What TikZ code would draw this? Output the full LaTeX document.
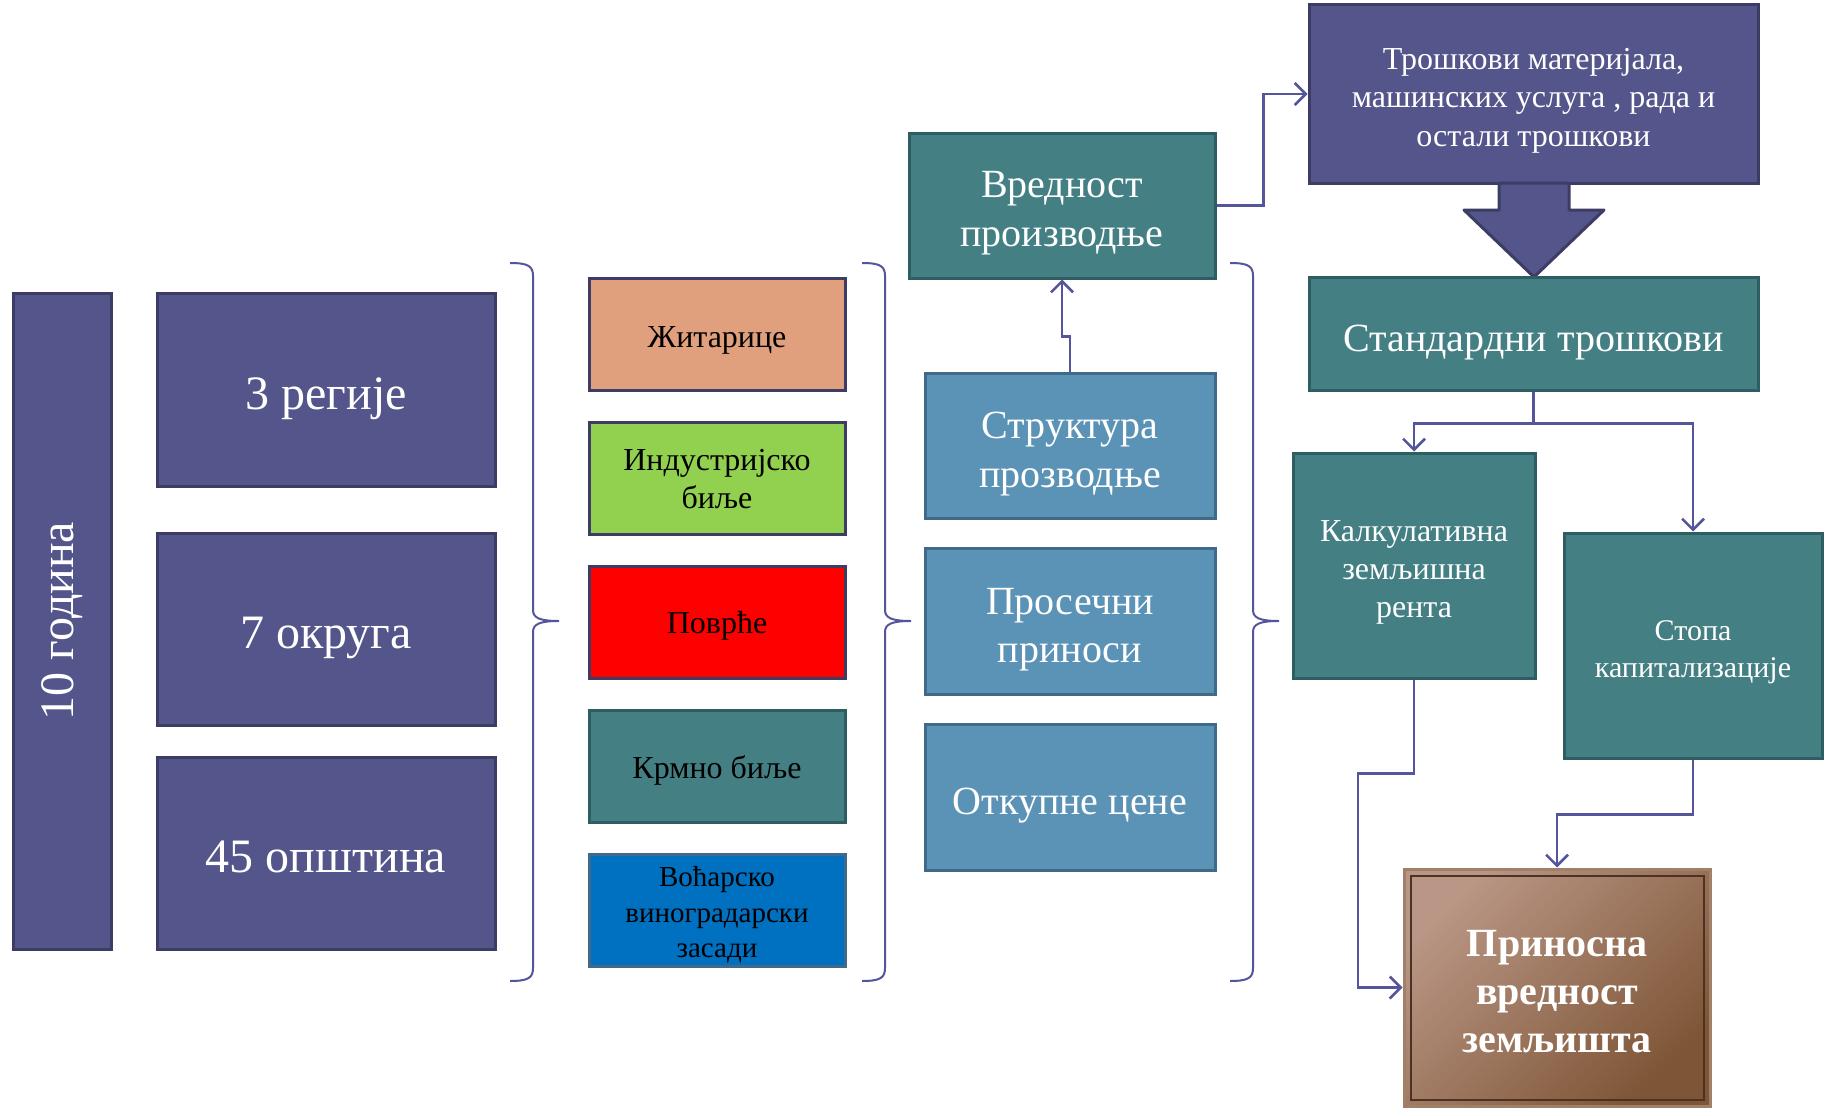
\documentclass[tikz,border=0pt]{standalone}
\usepackage{fontspec}
\setmainfont{Liberation Serif}
\usetikzlibrary{arrows.meta,shadings}
\definecolor{purpF}{HTML}{54558A}
\definecolor{purpD}{HTML}{3C3C64}
\definecolor{tealF}{HTML}{447F84}
\definecolor{tealD}{HTML}{2E5E62}
\definecolor{steelF}{HTML}{5B93B7}
\definecolor{steelD}{HTML}{41698A}
\definecolor{zitoF}{HTML}{E0A07E}
\definecolor{greenF}{HTML}{92D050}
\definecolor{redF}{HTML}{FF0000}
\definecolor{blueF}{HTML}{0070C0}
\definecolor{lineC}{HTML}{55559B}
\definecolor{brownL}{HTML}{B99685}
\definecolor{brownD}{HTML}{7E5536}
\definecolor{brownE}{HTML}{A08068}
\definecolor{brownI}{HTML}{4B3222}
\newcommand{\lowtext}[2][7pt]{\raisebox{-#1}[\height][\depth]{\begin{tabular}{@{}c@{}}#2\end{tabular}}}
\tikzset{
  box/.style={rectangle, line width=3pt, inner sep=0pt, align=center, font=\color{white}},
  purplebox/.style={box, fill=purpF, draw=purpD},
  tealbox/.style={box, fill=tealF, draw=tealD},
  steelbox/.style={box, fill=steelF, draw=steelD},
  cropbox/.style={box, draw=purpD, minimum width=256pt, minimum height=112pt, font=\color{black}\fontsize{32}{38}\selectfont},
  conn/.style={draw=lineC, line width=2.5pt, -{Straight Barb[length=11pt,width=22pt,line width=2.5pt]}},
  bracestyle/.style={draw=lineC, line width=2pt},
  fz48/.style={font=\color{white}\fontsize{48}{58}\selectfont},
  fz40/.style={font=\color{white}\fontsize{40}{48.5}\selectfont},
}
\begin{document}
\begin{tikzpicture}[x=1pt,y=-1pt]
\useasboundingbox (0,0) rectangle (1826,1116);
\fill[white] (0,0) rectangle (1826,1116);

% left column
\node[purplebox, fz48, minimum width=98pt, minimum height=656pt] (godina) at (62,621) {\rotatebox{90}{10 година}};
\node[purplebox, fz48, minimum width=338pt, minimum height=193pt] (regije) at (326,389.5) {\lowtext[8pt]{3 регије}};
\node[purplebox, fz48, minimum width=338pt, minimum height=192pt] (okruga) at (326,629) {\lowtext[8pt]{7 округа}};
\node[purplebox, fz48, minimum width=338pt, minimum height=192pt] (opstina) at (326,853) {\lowtext[8pt]{45 општина}};

% braces
\draw[bracestyle] (510,263) .. controls (528,263) and (533,266) .. (533,276) -- (533,610)
  .. controls (533,618) and (540,621) .. (559,621)
  .. controls (540,621) and (533,624) .. (533,632) -- (533,968)
  .. controls (533,978) and (528,981) .. (510,981);
\draw[bracestyle] (862,263) .. controls (880,263) and (885,266) .. (885,276) -- (885,610)
  .. controls (885,618) and (892,621) .. (911,621)
  .. controls (892,621) and (885,624) .. (885,632) -- (885,968)
  .. controls (885,978) and (880,981) .. (862,981);
\draw[bracestyle] (1230,263) .. controls (1248,263) and (1253,266) .. (1253,276) -- (1253,610)
  .. controls (1253,618) and (1260,621) .. (1279,621)
  .. controls (1260,621) and (1253,624) .. (1253,632) -- (1253,968)
  .. controls (1253,978) and (1248,981) .. (1230,981);

% crops
\node[cropbox, fill=zitoF] (zito) at (717,334) {\lowtext[6pt]{Житарице}};
\node[cropbox, fill=greenF] (ind) at (717,478) {\lowtext[4pt]{Индустријско\\биље}};
\node[cropbox, fill=redF] (povrce) at (717,622) {\lowtext[4pt]{Поврће}};
\node[cropbox, fill=tealF, draw=tealD] (krmno) at (717,766) {\lowtext[5pt]{Крмно биље}};
\node[cropbox, fill=blueF, draw=steelD, font=\color{black}\fontsize{29}{35.5}\selectfont] (vocar) at (717,910) {\lowtext[5pt]{Воћарско\\виноградарски\\засади}};

% middle column
\node[tealbox, fz40, minimum width=306pt, minimum height=145pt] (vredn) at (1062,205.5) {\lowtext{Вредност\\производње}};
\node[steelbox, fz40, minimum width=290pt, minimum height=145pt] (strukt) at (1070,445.5) {\lowtext[8pt]{Структура\\прозводње}};
\node[steelbox, fz40, minimum width=290pt, minimum height=146pt] (prosec) at (1070,621) {\lowtext[8pt]{Просечни\\приноси}};
\node[steelbox, fz40, minimum width=290pt, minimum height=146pt] (otkup) at (1070,797) {\lowtext[8pt]{Откупне цене}};

% right part
\node[purplebox, font=\color{white}\fontsize{32}{38.5}\selectfont, minimum width=449pt, minimum height=178pt] (trosk) at (1533.5,94) {\lowtext[6pt]{Трошкови материјала,\\машинских услуга , рада и\\остали трошкови}};
\draw[fill=purpF, draw=purpD, line width=3pt, line join=round]
  (1499,183) -- (1569,183) -- (1569,210) -- (1604,210) -- (1534,277) -- (1464,210) -- (1499,210) -- cycle;
\node[tealbox, fz40, minimum width=449pt, minimum height=113pt] (stand) at (1533.5,333.5) {\lowtext[8pt]{Стандардни трошкови}};
\node[tealbox, font=\color{white}\fontsize{32}{38}\selectfont, minimum width=242pt, minimum height=225pt] (kalk) at (1414,565.5) {\lowtext[6pt]{Калкулативна\\земљишна\\рента}};
\node[tealbox, font=\color{white}\fontsize{30}{37}\selectfont, minimum width=258pt, minimum height=225pt] (stopa) at (1693,645.5) {\lowtext[6pt]{Стопа\\капитализације}};
\node[box, shading=axis, top color=brownL, bottom color=brownD, shading angle=45, draw=brownE,
      font=\color{white}\bfseries\fontsize{40}{48}\selectfont, minimum width=306pt, minimum height=237pt] (prinos) at (1557,987.5) {\lowtext[7pt]{Приносна\\вредност\\земљишта}};
\draw[brownI, line width=2pt] ([shift={(8,8)}]prinos.north west) rectangle ([shift={(-8,-8)}]prinos.south east);

% connectors
\draw[conn] (vredn.east) -- ++(47,0) |- (trosk.west);
\draw[conn] (strukt.north) -- ++(0,-35) -| (vredn.south);
\draw[conn] (stand.south) -- ++(0,32) -| (kalk.north);
\draw[conn] (stand.south) -- ++(0,32) -| (stopa.north);
\draw[conn] (kalk.south) -- ++(0,94) -- ++(-56,0) |- (prinos.west);
\draw[conn] (stopa.south) -- ++(0,55) -| (prinos.north);
\end{tikzpicture}
\end{document}
